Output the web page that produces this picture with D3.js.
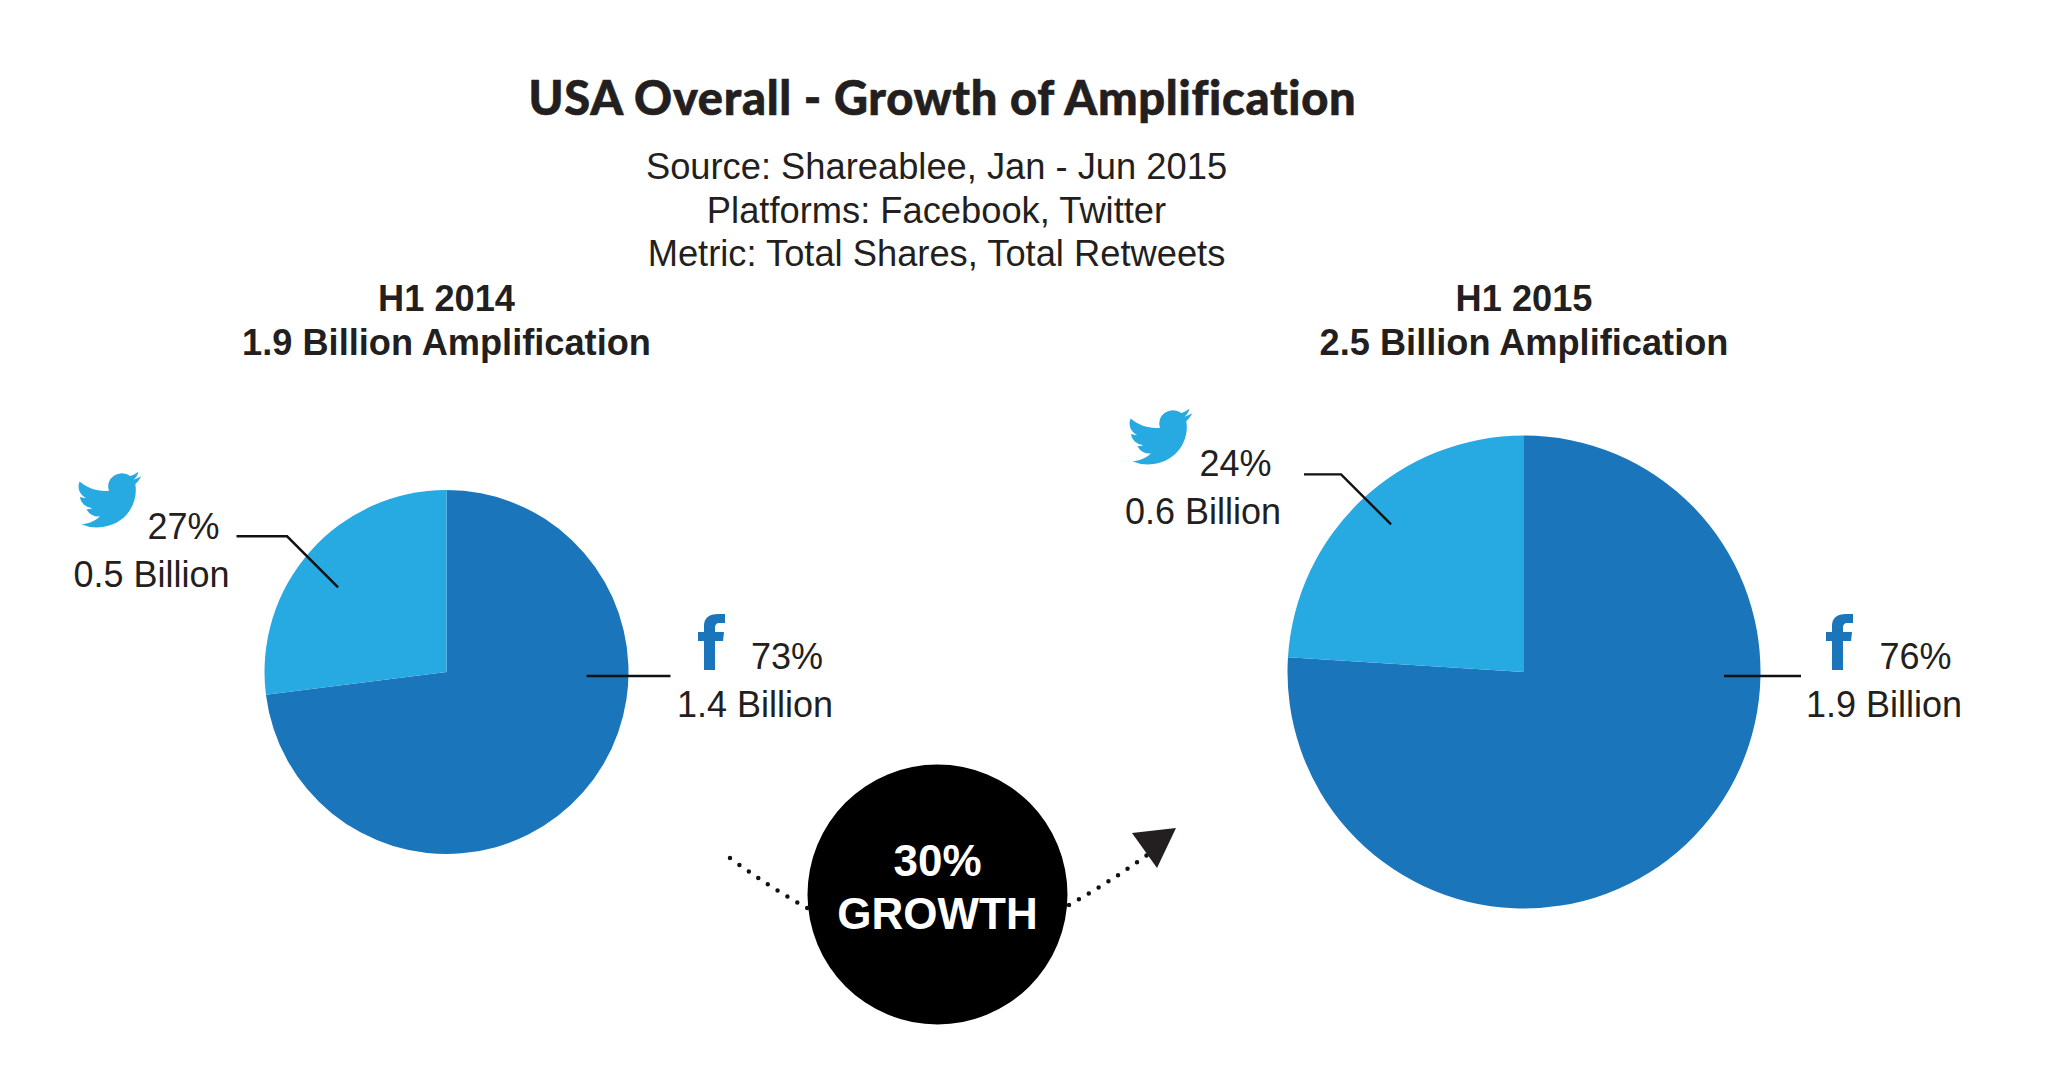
<!DOCTYPE html>
<html>
<head>
<meta charset="utf-8">
<script src="https://cdn.jsdelivr.net/npm/d3@7"></script>
<style>
body { margin: 0; background: #fff; }
text { font-family: "Liberation Sans", sans-serif; fill: #231f20; }
</style>
</head>
<body>
<script>
// data
var platforms = ["Facebook", "Twitter"];
var shares2014 = [73, 27];
var shares2015 = [76, 24];
var billions2014 = ["1.4 Billion", "0.5 Billion"];
var billions2015 = ["1.9 Billion", "0.6 Billion"];
var subtitleLines = ["Source: Shareablee, Jan - Jun 2015", "Platforms: Facebook, Twitter", "Metric: Total Shares, Total Retweets"];
var colors = ["#1a75bb", "#27a9e1"];

var BIRD = "M23.953 4.57a10 10 0 01-2.825.775 4.958 4.958 0 002.163-2.723c-.951.555-2.005.959-3.127 1.184a4.92 4.92 0 00-8.384 4.482C7.69 8.095 4.067 6.13 1.64 3.162a4.822 4.822 0 00-.666 2.475c0 1.71.87 3.213 2.188 4.096a4.904 4.904 0 01-2.228-.616v.06a4.923 4.923 0 003.946 4.827 4.996 4.996 0 01-2.212.085 4.936 4.936 0 004.604 3.417 9.867 9.867 0 01-6.102 2.105c-.39 0-.779-.023-1.17-.067a13.995 13.995 0 007.557 2.209c9.053 0 13.998-7.496 13.998-13.985 0-.21 0-.42-.015-.63A9.935 9.935 0 0024 4.59z";
var EFF = "M6 56V27H0V18H6V12C6 4 11 0 20 0H27V9H22C18 9 17 11 17 14V18H26L25 27H17V56Z";

var svg = d3.select("body").append("svg").attr("width", 2048).attr("height", 1079);
var color = d3.scaleOrdinal().domain(platforms).range(colors);

// title block
svg.append("text").attr("x", 942.5).attr("y", 115).attr("text-anchor", "middle")
    .style("font-family", "Lato").style("font-weight", 900).style("font-size", "47px")
    .style("letter-spacing", "0.7px").style("stroke", "#231f20").style("stroke-width", "0.6px")
    .text("USA Overall - Growth of Amplification");

svg.selectAll(".sub").data(subtitleLines).enter().append("text").attr("class", "sub")
    .attr("x", 936.5).attr("y", function (d, i) { return 179 + i * 43.5; })
    .attr("text-anchor", "middle").style("font-size", "36.3px")
    .text(function (d) { return d; });

function drawPie(opt) {
    var g = svg.append("g").attr("transform", "translate(" + opt.cx + "," + opt.cy + ")");
    var pie = d3.pie().sort(null);
    var arc = d3.arc().innerRadius(0).outerRadius(opt.r);
    var arcs = pie(opt.values);

    g.selectAll("path.slice").data(arcs).enter().append("path").attr("class", "slice")
        .attr("d", arc)
        .attr("fill", function (d, i) { return color(platforms[i]); });

    // leader lines
    var inner = d3.pointRadial(opt.leadAngle * Math.PI / 180, opt.leadR * opt.r);
    var tw = [inner, [inner[0] - opt.twDrop, inner[1] - opt.twDrop], [opt.twEnd, inner[1] - opt.twDrop]];
    g.append("path").attr("d", d3.line()(tw)).attr("fill", "none").attr("stroke", "#111").attr("stroke-width", 2.4);
    g.append("line").attr("x1", opt.fbLine[0]).attr("x2", opt.fbLine[1]).attr("y1", 4).attr("y2", 4)
        .attr("stroke", "#111").attr("stroke-width", 2.4);

    // headers
    [opt.head, d3.format(".1f")(opt.total) + " Billion Amplification"].forEach(function (t, i) {
        svg.append("text").attr("x", opt.cx).attr("y", 310.5 + i * 44).attr("text-anchor", "middle")
            .style("font-size", "36.2px").style("font-weight", "bold").text(t);
    });

    // labels
    function label(x, y, s) {
        svg.append("text").attr("x", x).attr("y", y).attr("text-anchor", "middle").style("font-size", "36px").text(s);
    }
    label(opt.twPct[0], opt.twPct[1], opt.values[1] + "%");
    label(opt.twBil[0], opt.twBil[1], opt.labels[1]);
    label(opt.fbPct[0], opt.fbPct[1], opt.values[0] + "%");
    label(opt.fbBil[0], opt.fbBil[1], opt.labels[0]);

    svg.append("path").attr("d", BIRD).attr("fill", colors[1])
        .attr("transform", "translate(" + opt.bird[0] + "," + opt.bird[1] + ") rotate(-8) scale(2.75,2.6)");
    svg.append("path").attr("d", EFF).attr("fill", colors[0])
        .attr("transform", "translate(" + opt.eff[0] + "," + opt.eff[1] + ")");
}

drawPie({
    cx: 446.5, cy: 672, r: 182, values: shares2014, labels: billions2014, head: "H1 2014", total: 1.9,
    leadAngle: 308, leadR: 0.756, twDrop: 51, twEnd: -210, fbLine: [140, 224],
    twPct: [183.5, 539], twBil: [151.5, 587], fbPct: [787, 668.5], fbBil: [755, 717],
    bird: [74, 474], eff: [698, 614]
});
drawPie({
    cx: 1524, cy: 672, r: 236.5, values: shares2015, labels: billions2015, head: "H1 2015", total: 2.5,
    leadAngle: 318, leadR: 0.84, twDrop: 50, twEnd: -220, fbLine: [200, 277],
    twPct: [1235.5, 476], twBil: [1203, 524], fbPct: [1915.5, 668.5], fbBil: [1884, 717],
    bird: [1125, 411], eff: [1826, 614]
});

// growth badge
svg.append("circle").attr("cx", 937.5).attr("cy", 894.5).attr("r", 130).attr("fill", "#000");
["30%", "GROWTH"].forEach(function (t, i) {
    svg.append("text").attr("x", 937.5).attr("y", 876 + i * 52.5).attr("text-anchor", "middle")
        .style("font-size", "44px").style("font-weight", "bold").style("fill", "#fff").text(t);
});

// dotted arrows
function dots(d) {
    svg.append("path").attr("d", d).attr("fill", "none").attr("stroke", "#111").attr("stroke-width", 4.5)
        .attr("stroke-linecap", "round").attr("stroke-dasharray", "0 11.5");
}
dots("M730 858Q769 887 809 909");
dots("M1069 905Q1110 882 1150 853");
svg.append("path").attr("d", "M1132 833L1176 828L1157 868Z").attr("fill", "#231f20");
</script>
</body>
</html>
